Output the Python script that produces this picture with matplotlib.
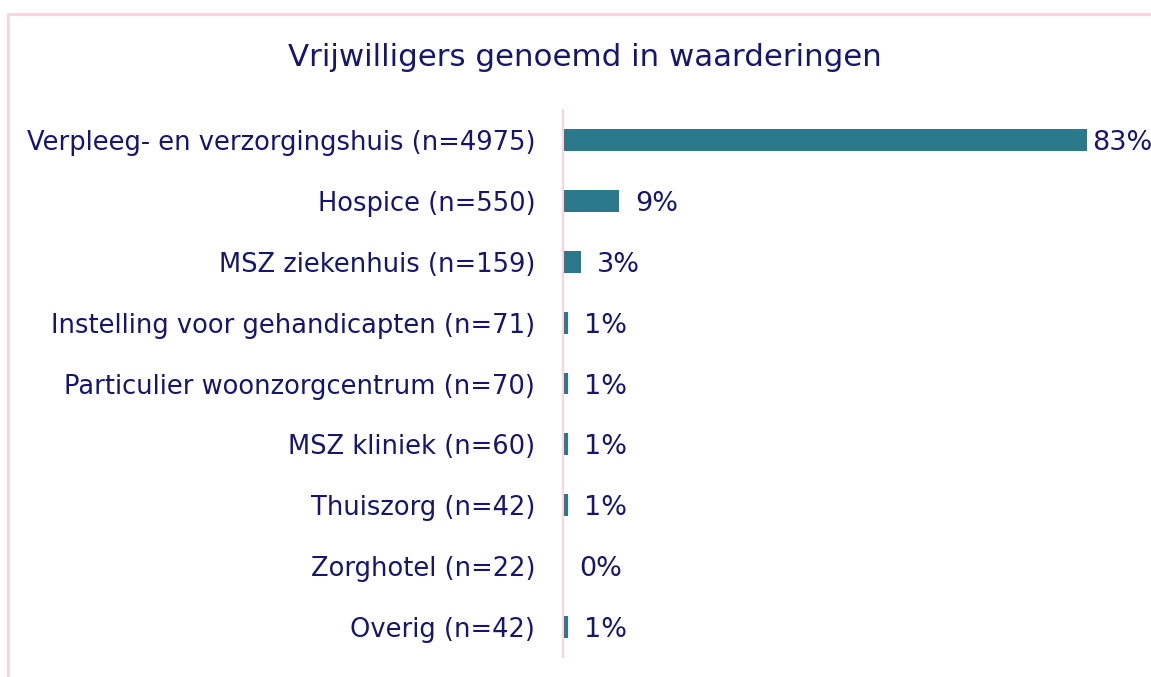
import matplotlib
matplotlib.use("Agg")
from matplotlib import pyplot as plt
from matplotlib.patches import Rectangle

# Data
categories = [
    "Verpleeg- en verzorgingshuis (n=4975)",
    "Hospice (n=550)",
    "MSZ ziekenhuis (n=159)",
    "Instelling voor gehandicapten (n=71)",
    "Particulier woonzorgcentrum (n=70)",
    "MSZ kliniek (n=60)",
    "Thuiszorg (n=42)",
    "Zorghotel (n=22)",
    "Overig (n=42)",
]
shares = [83, 8.9, 2.8, 0.8, 0.8, 0.8, 0.8, 0, 0.8]
share_labels = ["83%", "9%", "3%", "1%", "1%", "1%", "1%", "0%", "1%"]
title = "Vrijwilligers genoemd in waarderingen"

W, H = 1151, 677
TEXT = "#16166e"
BAR = "#2c788b"
PINK = "#fad4df"

fig = plt.figure(figsize=(W / 100, H / 100), dpi=100)
fig.patch.set_facecolor("white")

# outer frame (cut off on right and bottom, as in the reference)
fig.patches.append(Rectangle((8 / W, -0.1), 1.2, 1 - 14 / H + 0.1,
                             transform=fig.transFigure, fill=False,
                             edgecolor=PINK, linewidth=2.2))

ax_left, ax_right = 563, 1087
ax_top, ax_bot = 110, 657
ax = fig.add_axes([ax_left / W, 1 - ax_bot / H, (ax_right - ax_left) / W, (ax_bot - ax_top) / H])

y = list(range(len(categories)))
ax.barh(y, shares, height=0.36, color=BAR)
ax.set_xlim(0, 83)
ax.set_ylim(len(categories) - 0.5, -0.5)

for i, (v, lab) in enumerate(zip(shares, share_labels)):
    off = 5 if i == 0 else 16
    ax.annotate(lab, (v, i), xytext=(off, -3), textcoords="offset pixels",
                va="center", ha="left", fontsize=19.5, color=TEXT, annotation_clip=False)

ax.set_yticks(y)
ax.set_yticklabels(categories, fontsize=18.5, color=TEXT)
ax.tick_params(axis="y", length=0, pad=20)
ax.set_xticks([])
for side in ["top", "right", "bottom"]:
    ax.spines[side].set_visible(False)
ax.spines["left"].set_color(PINK)
ax.spines["left"].set_linewidth(1.5)

fig.text(585 / W, 1 - 58 / H, title, ha="center", va="center", fontsize=22.2, color=TEXT)

fig.savefig("out.png", dpi=100)
